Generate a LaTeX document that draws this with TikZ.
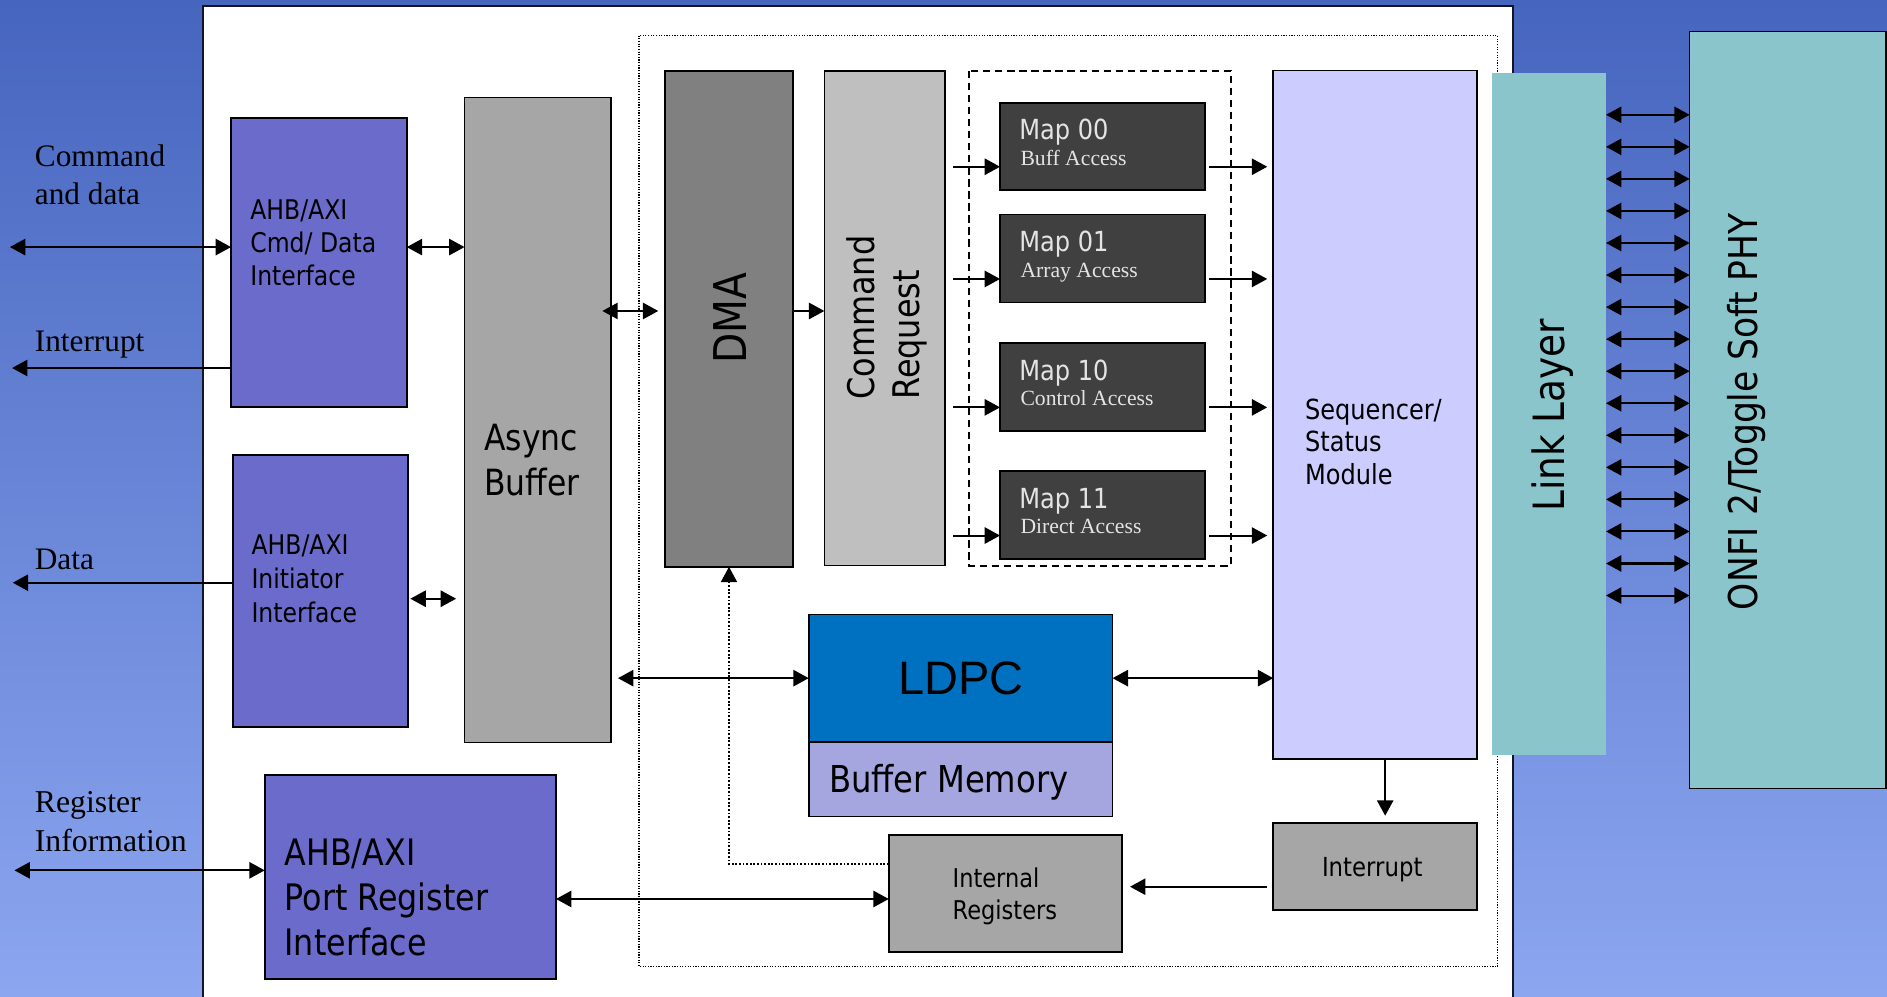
\documentclass[tikz,border=0pt]{standalone}
\usepackage{fontspec}
\setmainfont{Liberation Serif}
\newfontfamily\tah[FakeStretch=0.87]{DejaVu Sans}
\newfontfamily\ari{Liberation Sans}
\newfontfamily\ser{Liberation Serif}
\usetikzlibrary{arrows.meta}
\definecolor{bgtop}{RGB}{70,101,190}
\definecolor{bgbot}{RGB}{140,166,240}
\definecolor{panelline}{RGB}{20,20,40}
\definecolor{ahbc}{RGB}{107,107,204}
\definecolor{gryc}{RGB}{166,166,166}
\definecolor{dmac}{RGB}{128,128,128}
\definecolor{crqc}{RGB}{191,191,191}
\definecolor{mapc}{RGB}{64,64,64}
\definecolor{maptx}{RGB}{228,228,228}
\definecolor{seqc}{RGB}{204,204,255}
\definecolor{linkc}{RGB}{139,197,204}
\definecolor{ldpcc}{RGB}{0,112,192}
\definecolor{bufc}{RGB}{165,165,224}
\begin{document}
\begin{tikzpicture}[x=1pt,y=-1pt,
  box/.style={draw=black, line width=1.4pt, inner sep=0pt, outer sep=0pt, anchor=north west},
  txtnw/.style={inner sep=0pt, outer sep=0pt, align=left, anchor=north west},
  txtb/.style={inner sep=0pt, outer sep=0pt, anchor=base west},
  rtxt/.style={inner sep=0pt, outer sep=0pt, rotate=90, align=left},
  arr/.style={line width=1.7pt, -{Triangle[length=12.8pt,width=13.5pt]}},
  darr/.style={line width=1.7pt, {Triangle[length=12.8pt,width=13.5pt]}-{Triangle[length=12.8pt,width=13.5pt]}},
  maptitle/.style={txtb, text=maptx, font={\tah\fontsize{23}{27}\selectfont}},
  mapsub/.style={txtb, text=maptx, font={\ser\fontsize{18}{21}\selectfont}}
]
\useasboundingbox (0,0) rectangle (1568,828);
\shade[top color=bgtop, bottom color=bgbot] (0,0) rectangle (1568,828);

% main white panel
\fill[white] (169,5) rectangle (1257,840);
\draw[line width=1.6pt, panelline] (169,840) -- (169,5) -- (1257,5) -- (1257,840);

% dotted core frame and dashed map frame
\draw[line width=1pt, dash pattern=on 1pt off 1.2pt] (531,29.6) rectangle (1244.3,803.3);
\draw[line width=1.5pt, dash pattern=on 6pt off 4pt] (805,59) rectangle (1023,470);

% blocks
\node[box, fill=ahbc, minimum width=146pt, minimum height=240pt] (cmd) at (192,98) {};
\node[box, fill=ahbc, minimum width=145.5pt, minimum height=226pt] (ini) at (193.5,378) {};
\node[box, fill=gryc, minimum width=121.5pt, minimum height=536pt] (async) at (386,81) {};
\node[box, fill=ahbc, minimum width=242pt, minimum height=169.5pt] (preg) at (220,644) {};
\node[box, fill=dmac, minimum width=106.5pt, minimum height=412pt] (dma) at (552.5,59) {};
\node[box, fill=crqc, minimum width=100pt, minimum height=411pt] (crq) at (685,59) {};
\node[box, fill=mapc, minimum width=170pt, minimum height=72.5pt] (m00) at (831,85.3) {};
\node[box, fill=mapc, minimum width=170pt, minimum height=73pt] (m01) at (831,178.3) {};
\node[box, fill=mapc, minimum width=170pt, minimum height=73pt] (m10) at (831,285) {};
\node[box, fill=mapc, minimum width=170pt, minimum height=73pt] (m11) at (831,391.5) {};
\node[box, fill=seqc, minimum width=169.5pt, minimum height=572pt] (seq) at (1058,58.7) {};
\node[box, draw=none, fill=linkc, minimum width=94.5pt, minimum height=567pt] (link) at (1240,60.6) {};
\node[box, fill=linkc, line width=1.2pt, minimum width=163pt, minimum height=629pt] (onfi) at (1404,26.3) {};
\node[box, fill=ldpcc, minimum width=252.5pt, minimum height=106pt] (ldpc) at (672,510.5) {};
\node[box, fill=bufc, minimum width=252.5pt, minimum height=62pt] (bufm) at (672,616.5) {};
\node[box, fill=gryc, minimum width=194pt, minimum height=97pt] (ireg) at (738.5,694) {};
\node[box, fill=gryc, minimum width=169.5pt, minimum height=72.6pt] (intr) at (1058,683.6) {};

% texts
\node[txtnw, font={\fontsize{26}{31}\selectfont}] (lcmd) at (29,120.7) {Command\\and data};
\node[txtb, font={\fontsize{26}{31}\selectfont}] (lint) at (29,292.2) {Interrupt};
\node[txtb, font={\fontsize{26}{31}\selectfont}] (ldat) at (29,473) {Data};
\node[txtnw, font={\fontsize{26.4}{32.4}\selectfont}] (lreg) at (29,657.8) {Register\\Information};

\node[txtnw, font={\tah\fontsize{22.5}{27.6}\selectfont}] (cmdt) at (208,165.6) {AHB/AXI\\Cmd/ Data\\Interface};
\node[txtnw, font={\tah\fontsize{22.5}{28.2}\selectfont}] (init) at (209,444.2) {AHB/AXI\\Initiator\\Interface};
\node[txtnw, font={\tah\fontsize{30.3}{37.1}\selectfont}] (pregt) at (236.5,697.3) {AHB/AXI\\Port Register\\Interface};
\node[txtnw, font={\tah\fontsize{30}{37}\selectfont}] (asynct) at (402.5,352.6) {Async\\Buffer};
\node[rtxt, font={\tah\fontsize{37.5}{44}\selectfont}] (dmat) at (606.6,264.5) {DMA};
\node[rtxt, font={\tah\fontsize{30.5}{37}\selectfont}] (crqt) at (737,264) {Command\\Request};

\node[maptitle] (m00a) at ([xshift=16pt,yshift=-30.9pt]m00.north west) {Map 00};
\node[mapsub] (m00b) at ([xshift=17pt,yshift=-52.2pt]m00.north west) {Buff Access};
\node[maptitle] (m01a) at ([xshift=16pt,yshift=-30.9pt]m01.north west) {Map 01};
\node[mapsub] (m01b) at ([xshift=17pt,yshift=-52.2pt]m01.north west) {Array Access};
\node[maptitle] (m10a) at ([xshift=16pt,yshift=-30.9pt]m10.north west) {Map 10};
\node[mapsub] (m10b) at ([xshift=17pt,yshift=-52.2pt]m10.north west) {Control Access};
\node[maptitle] (m11a) at ([xshift=16pt,yshift=-30.9pt]m11.north west) {Map 11};
\node[mapsub] (m11b) at ([xshift=17pt,yshift=-52.2pt]m11.north west) {Direct Access};

\node[txtnw, font={\tah\fontsize{23}{27.2}\selectfont}] (seqt) at (1084.4,331.2) {Sequencer/\\Status\\Module};
\node[rtxt, font={\tah\fontsize{35.8}{40}\selectfont}] (linkt) at (1290,345) {Link Layer};
\node[rtxt, font={\tah\fontsize{33}{38}\selectfont}] (onfit) at (1451,342) {ONFI 2/Toggle Soft PHY};
\node[inner sep=0pt, font={\ari\fontsize{39}{45}\selectfont}] (ldpct) at (ldpc.center) {LDPC};
\node[txtb, font={\tah\fontsize{30.8}{36}\selectfont}] (bufmt) at (689,658.7) {Buffer Memory};
\node[txtnw, font={\tah\fontsize{21.5}{26.9}\selectfont}] (iregt) at (791.6,721.2) {Internal\\Registers};
\node[txtb, font={\tah\fontsize{21.8}{26}\selectfont}] (intrt) at (1098.5,728.5) {Interrupt};

% external connectors
\coordinate (cmdL) at (8.2,205.3);
\coordinate (intL) at (10,305.8);
\coordinate (dataL) at (10.6,484.2);
\coordinate (regL) at (12,723.2);
\draw[darr] (cmdL) -- (cmdL -| cmd.west);
\draw[arr] (intL -| cmd.west) -- (intL);
\draw[arr] (dataL -| ini.west) -- (dataL);
\draw[darr] (regL) -- (regL -| preg.west);

% internal connectors
\draw[darr] (cmdL -| cmd.east) -- (cmdL -| async.west);
\draw[darr, shorten <=2pt, shorten >=7pt] ([yshift=-6.5pt]ini.east) -- ([yshift=-6.5pt]ini.east -| async.west);
\draw[darr, shorten >=5.5pt] ([yshift=6.6pt,xshift=-7pt]dma.west -| async.east) -- ([yshift=6.6pt]dma.west);
\draw[arr] ([yshift=6.6pt]dma.east) -- ([yshift=6.6pt]dma.east -| crq.west);
\foreach \m in {m00,m01,m10,m11}{
  \draw[arr, shorten <=7pt] ([yshift=-17pt]\m.west -| crq.east) -- ([yshift=-17pt]\m.west);
  \draw[arr, shorten <=4pt, shorten >=5pt] ([yshift=-17pt]\m.east) -- ([yshift=-17pt]\m.east -| seq.west);
}
\draw[darr, shorten <=6pt] (ldpc.west -| async.east) -- (ldpc.west);
\draw[darr] (ldpc.east) -- (ldpc.east -| seq.west);
\draw[arr, shorten >=5.8pt] ([xshift=8.25pt]seq.south) -- ([xshift=8.25pt]seq.south |- intr.north);
\draw[arr, shorten <=5.3pt, shorten >=6.5pt] ([yshift=-16.9pt]intr.west) -- ([yshift=-16.9pt]intr.west -| ireg.east);
\draw[darr] ([yshift=-18.25pt]preg.east) -- ([yshift=-18.25pt]preg.east -| ireg.west);
\draw[arr, line width=1.2pt, dash pattern=on 1.5pt off 1.5pt] ([yshift=24.5pt]ireg.west) -| (dma.south);
\foreach \i in {0,...,15}{
  \draw[darr] ([yshift={-34.8pt-26.63pt*\i}]link.north east) -- ([yshift={-34.8pt-26.63pt*\i}]link.north east -| onfi.west);
}
\end{tikzpicture}
\end{document}
